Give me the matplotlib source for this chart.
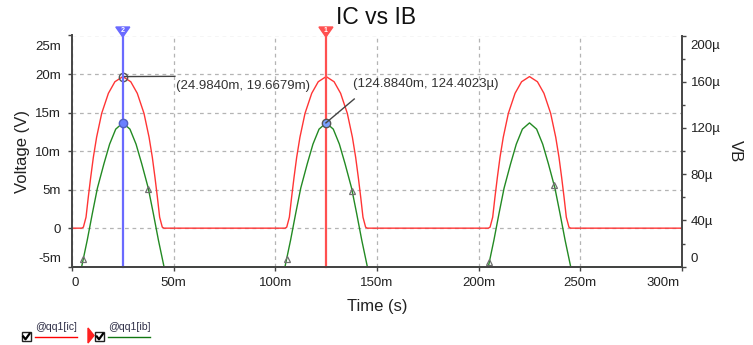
import matplotlib
matplotlib.use('Agg')
import matplotlib.pyplot as plt
from matplotlib.patches import Rectangle, Polygon
from matplotlib.lines import Line2D
from matplotlib.transforms import ScaledTranslation

plt.rcParams['font.family'] = ['Liberation Sans', 'DejaVu Sans']

# ---------------- data (time in ms, IC in mA, IB in uA) ----------------
ic_t = [0, 4.75, 5.6, 6.9, 8.0, 9.2, 10.5, 12.1, 14.6, 17.9, 21.1, 25.0, 28.9, 32.1, 35.4, 37.9, 39.5, 40.8, 42.0, 43.1, 44.4, 45.25,
        104.75, 105.6, 106.9, 108.0, 109.2, 110.5, 112.1, 114.6, 117.9, 121.1, 125.0, 128.9, 132.1, 135.4, 137.9, 139.5, 140.8, 142.0, 143.1, 144.4, 145.25,
        204.75, 205.6, 206.9, 208.0, 209.2, 210.5, 212.1, 214.6, 217.9, 221.1, 225.0, 228.9, 232.1, 235.4, 237.9, 239.5, 240.8, 242.0, 243.1, 244.4, 245.25,
        300]
ic_ma = [0, 0, 0.13, 1.43, 4.0, 6.6, 9.2, 11.8, 14.9, 17.5, 19.0, 19.67, 19.0, 17.5, 14.9, 11.8, 9.2, 6.6, 4.0, 1.43, 0.13, 0,
         0, 0.13, 1.43, 4.0, 6.6, 9.2, 11.8, 14.9, 17.5, 19.0, 19.67, 19.0, 17.5, 14.9, 11.8, 9.2, 6.6, 4.0, 1.43, 0.13, 0,
         0, 0.13, 1.43, 4.0, 6.6, 9.2, 11.8, 14.9, 17.5, 19.0, 19.67, 19.0, 17.5, 14.9, 11.8, 9.2, 6.6, 4.0, 1.43, 0.13, 0,
         0]

ib_t = [0, 4.75, 7.5, 10.0, 12.5, 15.7, 18.5, 21.5, 25.0, 28.5, 31.5, 34.3, 37.5, 40.0, 42.5, 45.25,
        104.75, 107.5, 110.0, 112.5, 115.7, 118.5, 121.5, 125.0, 128.5, 131.5, 134.3, 137.5, 140.0, 142.5, 145.25,
        204.75, 207.5, 210.0, 212.5, 215.7, 218.5, 221.5, 225.0, 228.5, 231.5, 234.3, 237.5, 240.0, 242.5, 245.25,
        300]
ib_ua = [0, 0, 23, 46, 68, 89, 106, 119, 124.4, 119, 106, 89, 68, 46, 23, 0,
         0, 23, 46, 68, 89, 106, 119, 124.4, 119, 106, 89, 68, 46, 23, 0,
         0, 23, 46, 68, 89, 106, 119, 124.4, 119, 106, 89, 68, 46, 23, 0,
         0]

marker_t = [5.6, 37.5, 105.6, 137.6, 205.1, 237.1]
marker_ua = [6.4, 67, 6.4, 65.7, 3.8, 70.6]

cursor_t = [24.984, 124.884]
cursor_ic = 19.6679
cursor_ib = 124.4023
readouts = ['(24.9840m, 19.6679m)', '(124.8840m, 124.4023µ)']

x_ticks = [0, 50, 100, 150, 200, 250, 300]
x_ticklabels = ['0', '50m', '100m', '150m', '200m', '250m', '300m']
yl_ticks = [-5, 0, 5, 10, 15, 20, 25]
yl_ticklabels = ['-5m', '0', '5m', '10m', '15m', '20m', '25m']
yr_ticks = [0, 40, 80, 120, 160, 200]
yr_ticklabels = ['0', '40µ', '80µ', '120µ', '160µ', '200µ']
yr_minor = [20, 60, 100, 140, 180]

title = 'IC vs IB'
legend_labels = ['@qq1[ic]', '@qq1[ib]']

# ---------------- figure ----------------
W, H = 753, 345
fig = plt.figure(figsize=(W / 100, H / 100), dpi=100)
fig.patch.set_facecolor('white')

def fx(px):
    return px / W

def fy(py):
    return 1 - py / H

ax = fig.add_axes([fx(72), fy(266.7), 610 / W, (266.7 - 35.5) / H])
ax2 = ax.twinx()

RED = '#ff3535'
GREEN = '#238a23'
AXC = '#454545'
TXT = '#222222'

ax.plot(ic_t, ic_ma, color=RED, lw=1.0, zorder=2)
ax2.plot(ib_t, ib_ua, color=GREEN, lw=1.0, zorder=2, clip_on=False)
ax2.plot(marker_t, marker_ua, linestyle='none', marker='^', markersize=5,
         markerfacecolor='none', markeredgecolor='#707070', markeredgewidth=0.9, zorder=4)

ax.set_xlim(0, 300)
ax.set_ylim(-5, 25)
ax2.set_ylim(0, 200)

ax.set_xticks(x_ticks)
ax.set_xticklabels(x_ticklabels)
ax.set_yticks(yl_ticks)
ax.set_yticklabels(yl_ticklabels)
ax2.set_yticks(yr_ticks)
ax2.set_yticklabels(yr_ticklabels)
ax2.set_yticks(yr_minor, minor=True)

ax.grid(True, color='#b4b4b4', linestyle=(0, (3, 3)), lw=0.9)
ax.set_axisbelow(True)

for a in (ax, ax2):
    a.spines['top'].set_visible(False)
    for s in ('left', 'right', 'bottom'):
        a.spines[s].set_color(AXC)
        a.spines[s].set_linewidth(1.4)
ax.spines['right'].set_visible(False)
ax2.spines['left'].set_visible(False)
ax2.spines['bottom'].set_visible(True)
ax2.spines['bottom'].set_zorder(5)
ax2.spines['right'].set_zorder(5)

ax.tick_params(axis='both', direction='out', length=2.8, width=1, colors=AXC,
               labelsize=9.5, labelcolor=TXT)
ax.tick_params(axis='x', pad=4.5)
ax.tick_params(axis='y', pad=5.0)
ax2.tick_params(axis='y', which='major', direction='out', length=2.8, width=1, colors=AXC,
                labelsize=9.5, labelcolor=TXT, pad=3.5)
ax2.tick_params(axis='y', which='minor', direction='out', length=2.0, width=1, colors=AXC)

def shift(lbl, dx_px, dy_px):
    lbl.set_transform(lbl.get_transform() + ScaledTranslation(dx_px / 100, dy_px / 100, fig.dpi_scale_trans))

xl = ax.get_xticklabels()
xl[0].set_ha('left')
xl[-1].set_ha('right')
shift(xl[-1], -2, 0)
yl = ax.get_yticklabels()
shift(yl[-1], 0, -9.5)
shift(yl[0], 0, 8.7)
yr = ax2.get_yticklabels()
shift(yr[-1], 0, -9.5)
shift(yr[0], 0, 9.7)

ax.set_xlabel('Time (s)', fontsize=12, color=TXT)
ax.xaxis.set_label_coords(0.5, -(307 - 266.7) / (266.7 - 35.5))
ax.xaxis.label.set_va('center')
ax.set_ylabel('Voltage (V)', fontsize=12, color=TXT)
ax.yaxis.set_label_coords((22 - 72) / 610, 0.5)
ax.yaxis.label.set_va('center')
ax2.set_ylabel('VB', fontsize=12, color=TXT, rotation=-90)
ax2.yaxis.set_label_coords((735 - 72) / 610, 0.5)
ax2.yaxis.label.set_va('center')

fig.text(fx(376), fy(17.5), title, fontsize=16.5, color='#111111', ha='center', va='center')

# ---------------- cursors ----------------
cursor_cols = ['#6a6aff', '#ff5050']
cursor_ids = ['2', '1']
for t, c, cid in zip(cursor_t, cursor_cols, cursor_ids):
    ax2.plot([t, t], [0, 200 + (35.5 - 29) * 200 / 231.2], color=c, lw=1.6, zorder=3, clip_on=False)
    xp = 72 + t * 610 / 300
    tri = Polygon([(fx(xp - 7), fy(27)), (fx(xp + 7), fy(27)), (fx(xp), fy(37))],
                  closed=True, transform=fig.transFigure, facecolor=c, edgecolor=c, zorder=5)
    fig.add_artist(tri)
    fig.text(fx(xp), fy(30.5), cid, fontsize=5, color='white', fontweight='bold',
             ha='center', va='center', zorder=6)

# cursor point circles
ax.plot([cursor_t[0]], [cursor_ic], linestyle='none', marker='o', markersize=6,
        markerfacecolor='none', markeredgecolor='#555555', markeredgewidth=1.0, zorder=6)
ax2.plot([cursor_t[0]], [cursor_ib], linestyle='none', marker='o', markersize=6,
         markerfacecolor='#6a80ff', markeredgecolor='#5060c0', markeredgewidth=1.0, zorder=6)
ax2.plot([cursor_t[1]], [cursor_ib], linestyle='none', marker='o', markersize=6,
         markerfacecolor='#7aa0ff', markeredgecolor='#555555', markeredgewidth=1.0, zorder=6)

# readout leader lines + text
ax.plot([cursor_t[0], 50.6], [cursor_ic, 19.7], color='#444444', lw=1.0, zorder=6, clip_on=False)
ax.text(51.2, 18.5, readouts[0], fontsize=9.5, color='#333333', ha='left', va='center', zorder=7)
ax2.plot([cursor_t[1], 138.8], [cursor_ib, (266.7 - 99) / 1.156], color='#444444', lw=1.0, zorder=6, clip_on=False)
ax2.text(138.2, (266.7 - 84) / 1.156, readouts[1], fontsize=9.5, color='#333333', ha='left', va='center', zorder=7)

# ---------------- legend ----------------
def checkbox(x0, y0):
    fig.add_artist(Rectangle((fx(x0), fy(y0 + 9)), 9 / W, 9 / H, transform=fig.transFigure,
                             facecolor='white', edgecolor='#222222', lw=1.0))
    fig.add_artist(Line2D([fx(x0 + 1.8), fx(x0 + 4), fx(x0 + 8)],
                          [fy(y0 + 4.5), fy(y0 + 7.3), fy(y0 + 1.8)],
                          transform=fig.transFigure, color='black', lw=1.6))

checkbox(21.5, 332)
fig.text(fx(35), fy(326.5), legend_labels[0], fontsize=7.6, color='#303048', ha='left', va='center')
fig.add_artist(Line2D([fx(35), fx(77)], [fy(336.5), fy(336.5)], transform=fig.transFigure, color='#ff0000', lw=1.0))

fig.add_artist(Polygon([(fx(88), fy(328)), (fx(88), fy(343)), (fx(94), fy(335.5))], closed=True,
                       transform=fig.transFigure, facecolor='#ff2020', edgecolor='#ff2020'))
checkbox(95, 332)
fig.text(fx(108), fy(326.5), legend_labels[1], fontsize=7.6, color='#303048', ha='left', va='center')
fig.add_artist(Line2D([fx(108), fx(150)], [fy(336.5), fy(336.5)], transform=fig.transFigure, color='#117711', lw=1.0))

fig.savefig('out.png', dpi=100, facecolor='white')
